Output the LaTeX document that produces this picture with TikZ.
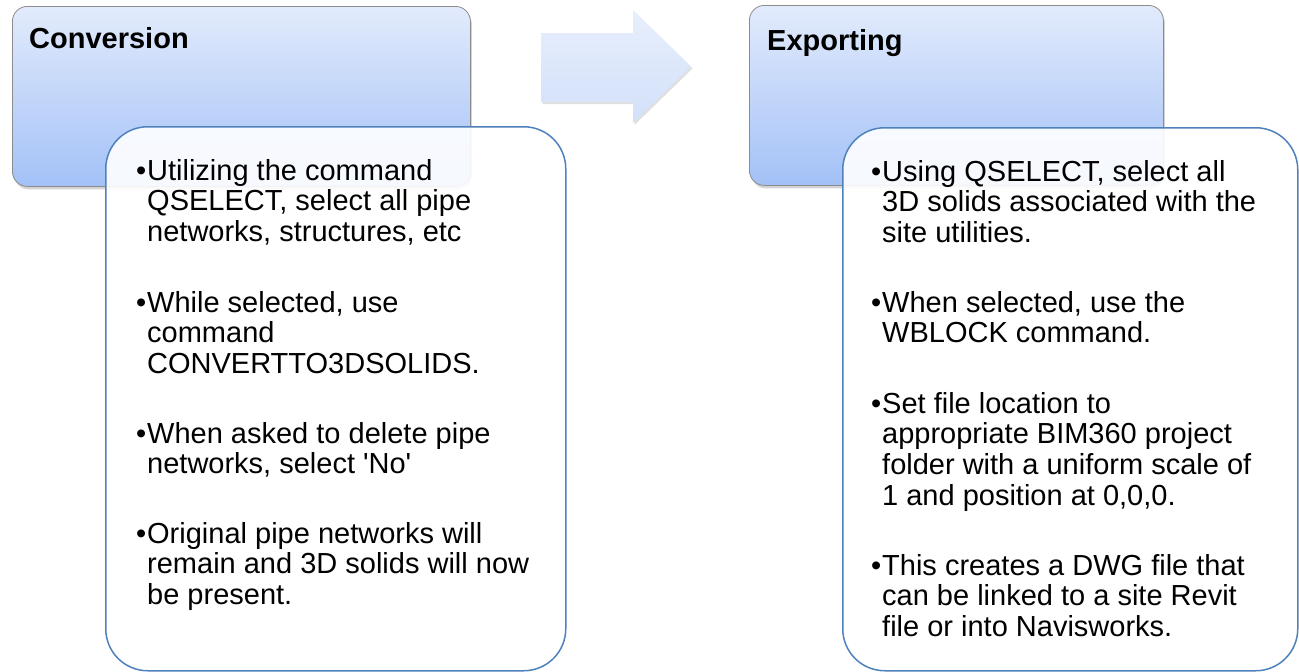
\documentclass[tikz,border=0pt]{standalone}
\usepackage{fontspec}
\setmainfont{Liberation Sans}
\usetikzlibrary{shadows,shadings}
\definecolor{hdtop}{HTML}{E2EBFC}
\definecolor{hdbot}{HTML}{A3C1F7}
\definecolor{hdline}{HTML}{8C8C8C}
\definecolor{bodyline}{HTML}{4F81BD}
\definecolor{arrtop}{HTML}{E8EFFC}
\definecolor{arrbot}{HTML}{D2E0FA}
\tikzset{
  headbox/.style={draw=hdline, line width=0.8pt, rounded corners=15pt,
    top color=hdtop, bottom color=hdbot, anchor=north west, inner sep=0pt,
    drop shadow={opacity=0.35, shadow xshift=1.5pt, shadow yshift=-3pt}},
  bodybox/.style={draw=bodyline, line width=1.5pt, rounded corners=42pt,
    fill=white, fill opacity=0.9, anchor=north west, inner sep=0pt},
  titletext/.style={anchor=base west, inner sep=0pt, font=\fontsize{29}{31}\selectfont\bfseries},
  bullettext/.style={anchor=base west, inner sep=0pt, font=\fontsize{29}{30.7}\selectfont},
}
\newcommand{\bul}{\leavevmode\llap{\textbullet\hspace{1pt}}}
\newcommand{\para}[1]{\parbox[t]{420pt}{\raggedright #1}}
\begin{document}
\begin{tikzpicture}[x=1pt,y=-1pt]
\useasboundingbox (0,0) rectangle (1299,672);
% left header
\node[headbox, minimum width=458pt, minimum height=180pt] (convhead) at (12,6) {};
\node[titletext] (convtitle) at (29,48) {Conversion};
% arrow
\path[top color=arrtop, bottom color=arrbot,
  drop shadow={opacity=0.25, shadow xshift=1.5pt, shadow yshift=-2pt}]
  (541,33) -- (633,33) -- (633,10) -- (691,66.5) -- (633,123) -- (633,102) -- (541,102) -- cycle;
\coordinate (arrowtip) at (691,66.5);
% right header
\node[headbox, minimum width=414pt, minimum height=180pt] (exphead) at (749,5) {};
\node[titletext] (exptitle) at (767,50) {Exporting};
% left body
\node[bodybox, minimum width=460pt, minimum height=544pt] (convbody) at (105,126) {};
\node[bullettext] (c1) at (147,180) {\para{\bul Utilizing the command\\QSELECT, select all pipe\\networks, structures, etc}};
\node[bullettext] (c2) at (147,312) {\para{\bul While selected, use\\command\\CONVERTTO3DSOLIDS.}};
\node[bullettext] (c3) at (147,443) {\para{\bul When asked to delete pipe\\networks, select \textquotesingle No\textquotesingle}};
\node[bullettext] (c4) at (147,543) {\para{\bul Original pipe networks will\\remain and 3D solids will now\\be present.}};
% right body
\node[bodybox, minimum width=455pt, minimum height=543pt] (expbody) at (842,127) {};
\node[bullettext] (e1) at (882,181) {\para{\bul Using QSELECT, select all\\3D solids associated with the\\site utilities.}};
\node[bullettext] (e2) at (882,312) {\para{\bul When selected, use the\\WBLOCK command.}};
\node[bullettext] (e3) at (882,413) {\para{\bul Set file location to\\appropriate BIM360 project\\folder with a uniform scale of\\1 and position at 0,0,0.}};
\node[bullettext] (e4) at (882,575) {\para{\bul This creates a DWG file that\\can be linked to a site Revit\\file or into Navisworks.}};
\end{tikzpicture}
\end{document}
